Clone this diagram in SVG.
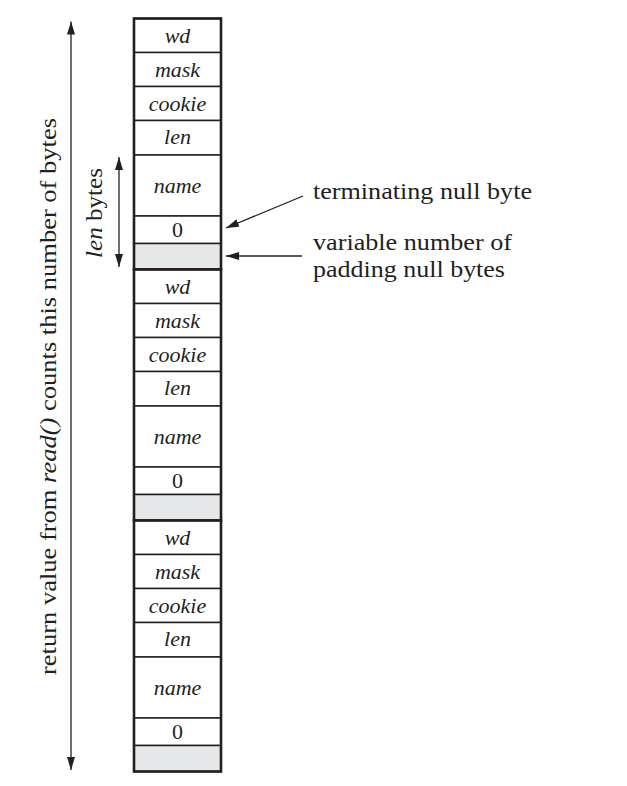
<svg xmlns="http://www.w3.org/2000/svg" width="627" height="786" viewBox="0 0 627 786">
<defs>
<style>
.cell{fill:#fff;stroke:#231f20;stroke-width:1.5}
.pad{fill:#e6e7e8;stroke:#231f20;stroke-width:1.5}
.blk{fill:none;stroke:#231f20;stroke-width:2.6}
text{font-family:'Liberation Serif','Times New Roman',Times,serif;fill:#231f20}
.t{font-size:22px;text-anchor:middle}
.i{font-style:italic}
.lbl{font-size:24px}
.ln{stroke:#231f20;stroke-width:1.3;fill:none}
</style>
<marker id="ah" viewBox="0 0 13 8" refX="13" refY="4" markerWidth="13" markerHeight="8" markerUnits="userSpaceOnUse" orient="auto">
<path d="M0,0 L13,4 L0,8 Z" fill="#231f20"/>
</marker>
</defs>
<g id="block1" transform="translate(0,18.5)">
<rect class="cell" x="134" y="0" width="87" height="34"/>
<rect class="cell" x="134" y="34" width="87" height="34"/>
<rect class="cell" x="134" y="68" width="87" height="34"/>
<rect class="cell" x="134" y="102" width="87" height="34.5"/>
<rect class="cell" x="134" y="136.5" width="87" height="61"/>
<rect class="cell" x="134" y="197.5" width="87" height="27.5"/>
<rect class="pad" x="134" y="225" width="87" height="26"/>
<rect class="blk" x="134" y="0" width="87" height="251"/>
<text class="t i" x="177.5" y="24.5">wd</text>
<text class="t i" x="177.5" y="58.5">mask</text>
<text class="t i" x="177.5" y="92.5">cookie</text>
<text class="t i" x="177.5" y="125.5">len</text>
<text class="t i" x="177.5" y="174">name</text>
<text class="t" x="177.5" y="218.5">0</text>
</g>
<g id="block2" transform="translate(0,269.5)">
<rect class="cell" x="134" y="0" width="87" height="34"/>
<rect class="cell" x="134" y="34" width="87" height="34"/>
<rect class="cell" x="134" y="68" width="87" height="34"/>
<rect class="cell" x="134" y="102" width="87" height="34.5"/>
<rect class="cell" x="134" y="136.5" width="87" height="61"/>
<rect class="cell" x="134" y="197.5" width="87" height="27.5"/>
<rect class="pad" x="134" y="225" width="87" height="26"/>
<rect class="blk" x="134" y="0" width="87" height="251"/>
<text class="t i" x="177.5" y="24.5">wd</text>
<text class="t i" x="177.5" y="58.5">mask</text>
<text class="t i" x="177.5" y="92.5">cookie</text>
<text class="t i" x="177.5" y="125.5">len</text>
<text class="t i" x="177.5" y="174">name</text>
<text class="t" x="177.5" y="218.5">0</text>
</g>
<g id="block3" transform="translate(0,520.5)">
<rect class="cell" x="134" y="0" width="87" height="34"/>
<rect class="cell" x="134" y="34" width="87" height="34"/>
<rect class="cell" x="134" y="68" width="87" height="34"/>
<rect class="cell" x="134" y="102" width="87" height="34.5"/>
<rect class="cell" x="134" y="136.5" width="87" height="61"/>
<rect class="cell" x="134" y="197.5" width="87" height="27.5"/>
<rect class="pad" x="134" y="225" width="87" height="26"/>
<rect class="blk" x="134" y="0" width="87" height="251"/>
<text class="t i" x="177.5" y="24.5">wd</text>
<text class="t i" x="177.5" y="58.5">mask</text>
<text class="t i" x="177.5" y="92.5">cookie</text>
<text class="t i" x="177.5" y="125.5">len</text>
<text class="t i" x="177.5" y="174">name</text>
<text class="t" x="177.5" y="218.5">0</text>
</g>
<g id="connectors">
<line class="ln" x1="71" y1="396" x2="71" y2="21.5" marker-end="url(#ah)"/>
<line class="ln" x1="71" y1="396" x2="71" y2="770" marker-end="url(#ah)"/>
<line class="ln" x1="119" y1="212" x2="119" y2="157" marker-end="url(#ah)"/>
<line class="ln" x1="119" y1="212" x2="119" y2="267" marker-end="url(#ah)"/>
<line class="ln" x1="303" y1="196" x2="226" y2="228" marker-end="url(#ah)"/>
<line class="ln" x1="302" y1="256" x2="226" y2="256" marker-end="url(#ah)"/>
</g>
<g id="labels">
<text class="lbl" transform="translate(56,396.5) rotate(-90)" text-anchor="middle" textLength="557" lengthAdjust="spacingAndGlyphs">return value from <tspan font-style="italic">read()</tspan> counts this number of bytes</text>
<text class="lbl" transform="translate(102,213) rotate(-90)" text-anchor="middle" textLength="90" lengthAdjust="spacingAndGlyphs"><tspan font-style="italic">len</tspan> bytes</text>
<text class="lbl" x="313" y="199" textLength="219" lengthAdjust="spacingAndGlyphs">terminating null byte</text>
<text class="lbl" x="313" y="250" textLength="199" lengthAdjust="spacingAndGlyphs">variable number of</text>
<text class="lbl" x="313" y="276.5" textLength="192" lengthAdjust="spacingAndGlyphs">padding null bytes</text>
</g>
</svg>
